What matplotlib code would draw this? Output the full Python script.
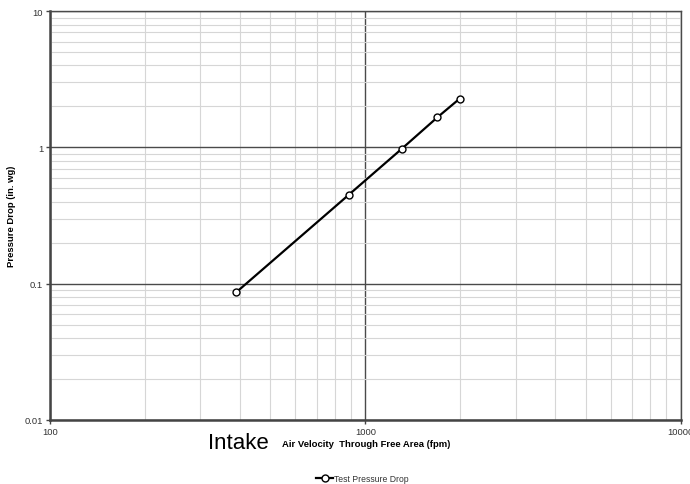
import matplotlib
matplotlib.use("Agg")
import matplotlib.pyplot as plt
from matplotlib.ticker import FixedLocator, LogLocator, NullFormatter

plt.rcParams["font.family"] = ["Liberation Sans", "DejaVu Sans"]

# test data
velocity = [390, 886, 1305, 1690, 1990]
pressure_drop = [0.0865, 0.449, 0.978, 1.66, 2.28]

x_ticks = [100, 1000, 10000]
x_tick_labels = ["100", "1000", "10000"]
y_ticks = [0.01, 0.1, 1, 10]
y_tick_labels = ["0.01", "0.1", "1", "10"]

fig = plt.figure(figsize=(6.9, 4.85), dpi=100)
ax = fig.add_axes([0.0725, 0.1326, 0.914, 0.842])

ax.set_xscale("log")
ax.set_yscale("log")
ax.set_xlim(100, 10000)
ax.set_ylim(0.01, 10)

ax.xaxis.set_major_locator(FixedLocator(x_ticks))
ax.yaxis.set_major_locator(FixedLocator(y_ticks))
ax.xaxis.set_minor_locator(LogLocator(base=10, subs=range(2, 10)))
ax.yaxis.set_minor_locator(LogLocator(base=10, subs=range(2, 10)))
ax.xaxis.set_minor_formatter(NullFormatter())
ax.yaxis.set_minor_formatter(NullFormatter())
ax.set_xticklabels(x_tick_labels)
ax.set_yticklabels(y_tick_labels)

ax.grid(which="minor", color="#d6d6d6", linewidth=0.8)
ax.grid(which="major", color="#4a4a4a", linewidth=1.0)
ax.set_axisbelow(True)

ax.tick_params(which="major", direction="out", length=3, width=1, color="#444444",
               labelsize=6.8, labelcolor="#333333", pad=2)
ax.tick_params(which="minor", length=0)
ax.tick_params(axis="x", pad=2)

for side in ("left", "bottom"):
    ax.spines[side].set_linewidth(1.8)
    ax.spines[side].set_color("#444444")
for side in ("right", "top"):
    ax.spines[side].set_linewidth(1.0)
    ax.spines[side].set_color("#4a4a4a")

ax.plot(velocity, pressure_drop, color="black", linewidth=1.6, marker="o",
        markersize=5, markerfacecolor="white", markeredgecolor="black",
        markeredgewidth=1.0, label="Test Pressure Drop", zorder=5)

fig.text(12 / 690, 0.553, "Pressure Drop (in. wg)", fontsize=6.8, fontweight="bold",
         rotation=90, va="center", ha="center")
fig.text(0.409, 0.083, "Air Velocity  Through Free Area (fpm)", fontsize=6.8,
         fontweight="bold", va="center", ha="left")
fig.text(0.302, 0.086, "Intake", fontsize=16, va="center", ha="left")

leg = fig.legend(loc="center", bbox_to_anchor=(0.525, 0.012), frameon=False,
                 fontsize=6.2, handlelength=2.0, handletextpad=0.1)
for t in leg.get_texts():
    t.set_color("#333333")

fig.savefig("out.png", dpi=100)
